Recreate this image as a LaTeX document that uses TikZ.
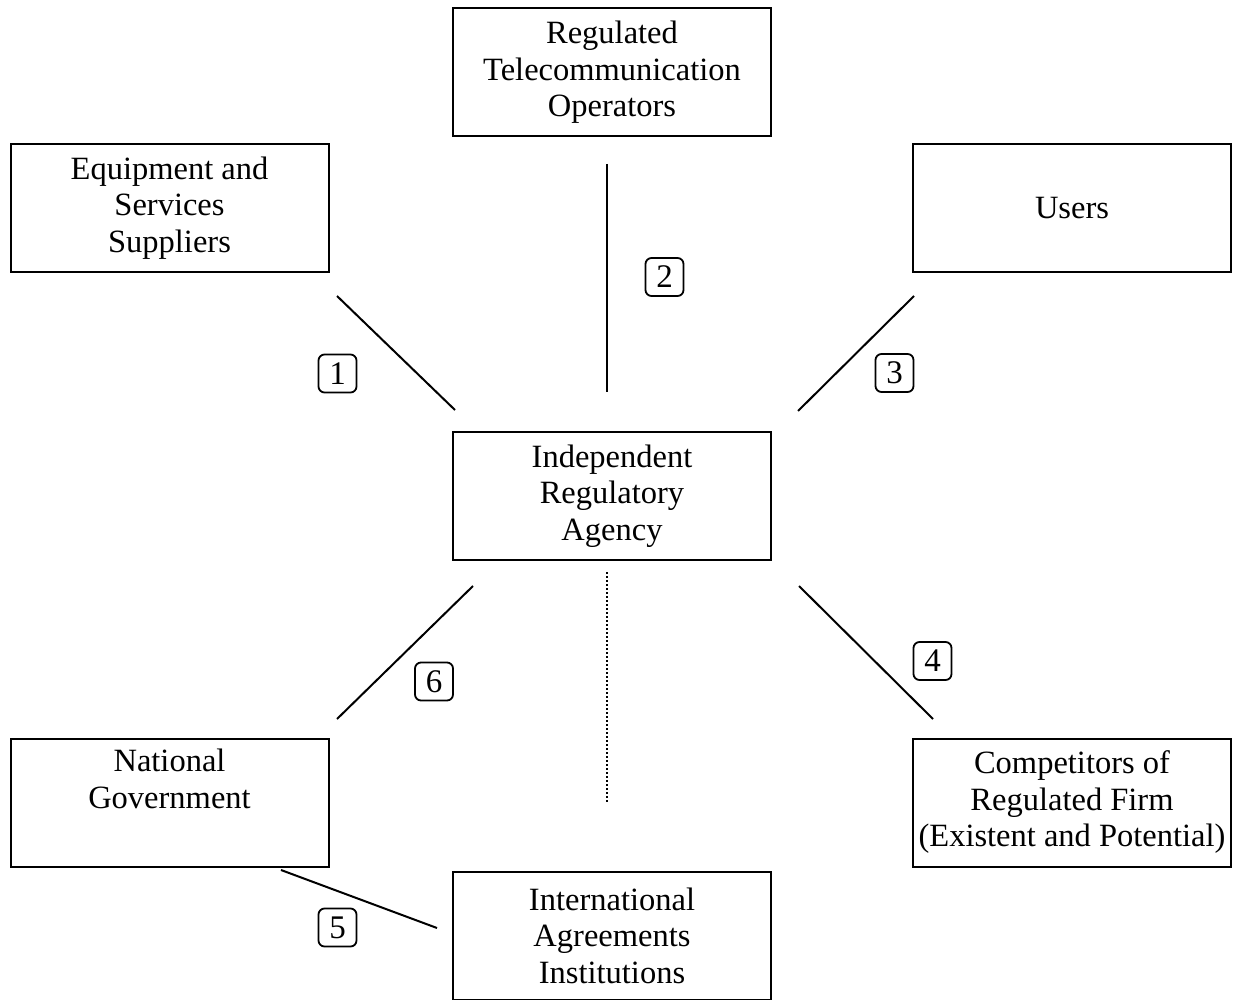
\documentclass[tikz,border=0pt]{standalone}
\usepackage{fontspec}
\setmainfont{Liberation Serif}
\begin{document}
\begin{tikzpicture}[x=1pt,y=-1pt,
  box/.style={draw,line width=2pt,minimum width=318pt,minimum height=128pt,align=center,inner sep=0pt,
    font=\fontsize{32.5}{36.5}\selectfont},
  num/.style={draw,line width=1.8pt,rounded corners=6pt,minimum width=38pt,minimum height=38pt,inner sep=0pt,
    font=\fontsize{33}{34}\selectfont},
  link/.style={line width=2pt}]
\useasboundingbox (0,0) rectangle (1238,1000);
\fill[white] (0,0) rectangle (1238,1000);
\node[box] (rto) at (612,72.5) {Regulated\\Telecommunication\\Operators};
\node[box] (eqp) at (169.5,208) {Equipment and\\Services\\Suppliers};
\node[box] (usr) at (1072,208) {Users};
\node[box] (ira) at (612,496) {Independent\\Regulatory\\Agency};
\node[box] (gov) at (169.5,802.5) {National\\Government\\\strut};
\node[box] (cmp) at (1072,802.5) {Competitors of\\Regulated Firm\\(Existent and Potential)};
\node[box] (iai) at (612,935.5) {International\\Agreements\\Institutions};
\node[num] (n1) at (337.5,373.5) {1};
\node[num] (n2) at (664.5,277) {2};
\node[num] (n3) at (894.5,373) {3};
\node[num] (n4) at (932.5,661) {4};
\node[num] (n6) at (434,681.5) {6};
\node[num] (n5) at (337.5,927.5) {5};
\coordinate (a1) at (337,296); \coordinate (b1) at (455,410);
\coordinate (a2) at (607,164); \coordinate (b2) at (607,392);
\coordinate (a3) at (914,296); \coordinate (b3) at (798,411);
\coordinate (a4) at (799,586); \coordinate (b4) at (933,719);
\coordinate (a6) at (473,586); \coordinate (b6) at (337,719);
\coordinate (ad) at (607,572); \coordinate (bd) at (607,803);
\coordinate (a5) at (281,870); \coordinate (b5) at (437,928);
\draw[link] (a1) -- (b1);
\draw[link] (a2) -- (b2);
\draw[link] (a3) -- (b3);
\draw[link] (a4) -- (b4);
\draw[link] (a6) -- (b6);
\draw[link] (a5) -- (b5);
\draw[line width=1.5pt,dash pattern=on 2pt off 2pt] (ad) -- (bd);
\end{tikzpicture}
\end{document}
